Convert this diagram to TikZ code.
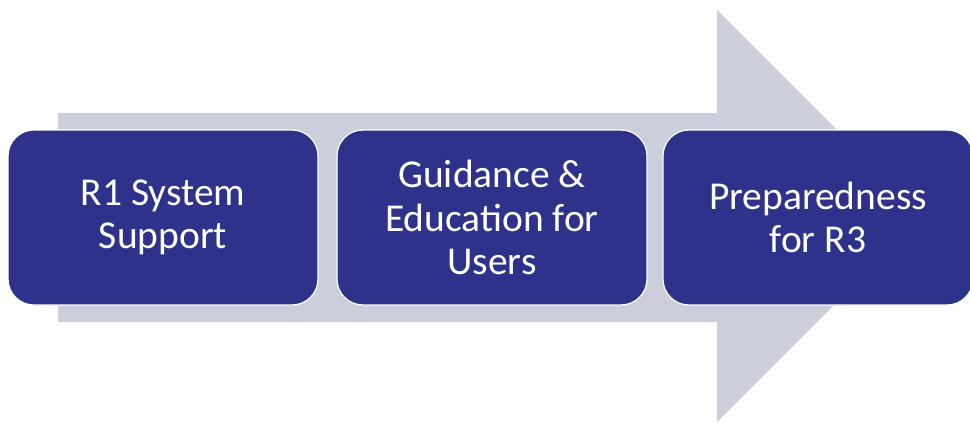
\documentclass[tikz,border=0pt]{standalone}
\usepackage{fontspec}
\setmainfont{Carlito}
\definecolor{boxblue}{RGB}{46,50,138}
\definecolor{arrowgray}{RGB}{205,206,219}
\begin{document}
\begin{tikzpicture}[x=1pt,y=-1pt,
  stagebox/.style={draw=white, line width=1.2pt, fill=boxblue, rounded corners=26pt,
    minimum width=310pt, minimum height=175pt, text=white, align=center,
    font=\fontsize{39.5}{43.5}\selectfont, inner sep=0pt}]
\useasboundingbox (0,0) rectangle (970,423);
\fill[arrowgray] (58,113) -- (717,113) -- (717,10) -- (923,216) -- (717,422) -- (717,322) -- (58,322) -- cycle;
\node[stagebox] (s1) at (163,217.5) {R1 System\\Support};
\node[stagebox] (s2) at (492,217.5) {Guidance \&\\Education for\\Users};
\node[stagebox] (s3) at (818,217.5) {Preparedness\\for R3};
\end{tikzpicture}
\end{document}
